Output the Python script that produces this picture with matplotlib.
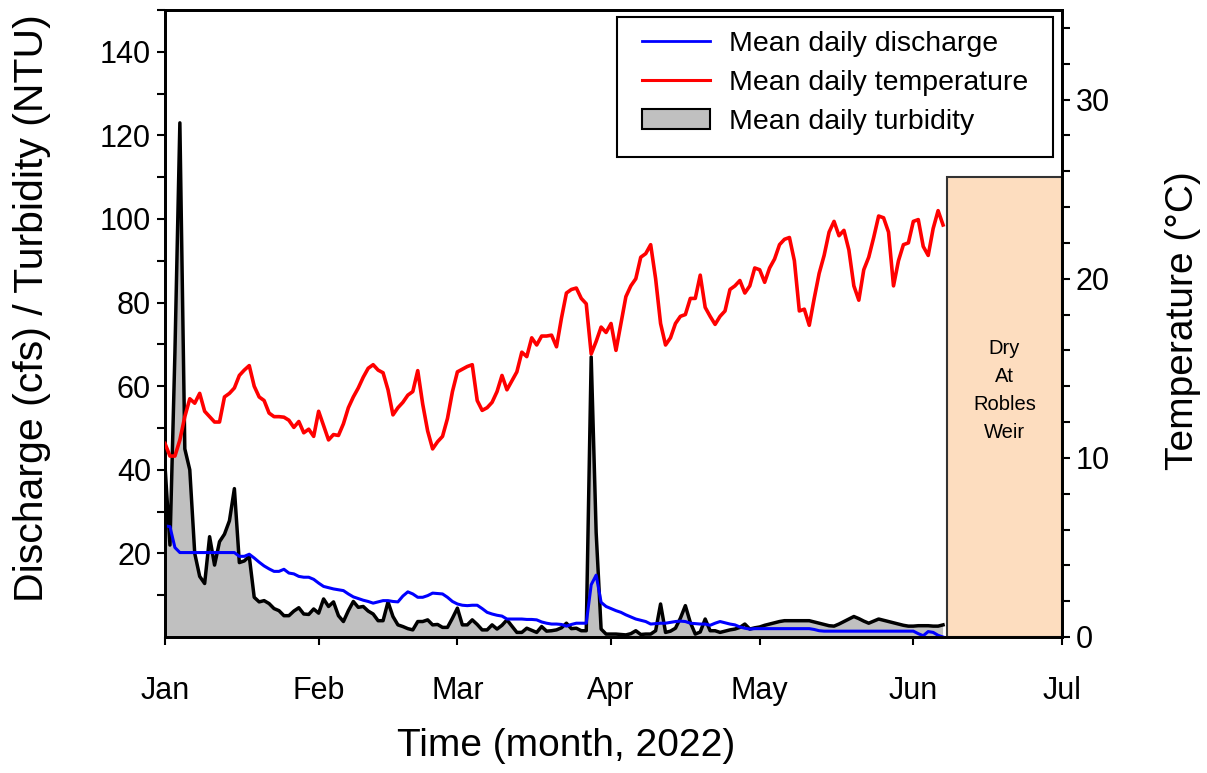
import numpy as np
import matplotlib
matplotlib.use('Agg')
import matplotlib.pyplot as plt
from matplotlib.patches import Rectangle, Patch
from matplotlib.lines import Line2D

plt.rcParams['font.family'] = ['Liberation Sans', 'DejaVu Sans']

# ---- data (daily values from 1 Jan 2022) ----
turbidity = [41, 22, 68, 123, 45, 40, 20, 14.5, 12.8, 24,
             17.2, 22.8, 24.6, 27.8, 35.5, 17.8, 18.2, 19.3, 9.5, 8.4,
             8.7, 8.0, 6.8, 6.3, 5.1, 5.1, 6.2, 7.0, 5.5, 5.4,
             6.7, 5.7, 9.1, 7.3, 8.4, 5.1, 3.7, 6.3, 8.5, 7.1,
             7.3, 6.2, 5.5, 3.9, 3.9, 8.4, 4.9, 2.9, 2.5, 2.0,
             1.7, 3.7, 3.7, 4.1, 2.9, 3.0, 2.3, 2.3, 4.5, 6.9,
             2.9, 2.9, 4.1, 3.0, 1.7, 1.7, 2.9, 1.9, 2.8, 4.1,
             2.6, 1.1, 1.1, 2.1, 1.6, 1.1, 2.5, 1.4, 1.5, 1.7,
             2.2, 3.3, 2.0, 2.1, 1.5, 1.5, 67, 25, 1.9, 0.7,
             0.7, 0.7, 0.6, 0.5, 0.8, 1.5, 0.6, 0.7, 0.7, 1.5,
             7.9, 1.1, 1.4, 2.1, 4.5, 7.5, 3.5, 0.7, 1.2, 4.3,
             1.5, 1.5, 1.1, 1.4, 1.7, 1.9, 2.3, 3.1, 1.9, 2.2,
             2.4, 2.8, 3.1, 3.4, 3.7, 3.9, 3.9, 3.9, 3.9, 3.9,
             3.9, 3.6, 3.3, 3.0, 2.7, 2.6, 3.1, 3.7, 4.3, 4.9,
             4.4, 3.8, 3.3, 3.8, 4.3, 4.0, 3.7, 3.4, 3.1, 2.8,
             2.6, 2.6, 2.7, 2.7, 2.7, 2.6, 2.6, 2.9]

discharge = [26.6, 26.4, 21.4, 20.2, 20.2, 20.2, 20.2, 20.2, 20.2, 20.2,
             20.2, 20.2, 20.2, 20.2, 20.2, 19.3, 19.3, 19.8, 18.9, 17.9,
             17.0, 16.3, 15.7, 15.7, 16.2, 15.3, 15.1, 14.5, 14.3, 14.3,
             13.8, 12.9, 12.1, 11.8, 11.5, 11.3, 11.1, 10.3, 9.6, 9.2,
             8.8, 8.5, 8.1, 8.4, 8.7, 8.7, 8.5, 8.4, 9.8, 10.8,
             10.3, 9.5, 9.5, 9.9, 10.5, 10.4, 10.3, 9.5, 8.5, 7.9,
             7.6, 7.5, 7.6, 7.6, 6.8, 5.9, 5.5, 5.2, 5.0, 4.3,
             4.3, 4.3, 4.3, 4.2, 4.2, 4.1, 3.6, 3.3, 3.1, 3.1,
             3.0, 2.6, 3.0, 3.3, 3.3, 3.3, 12.5, 14.8, 8.3, 7.3,
             6.8, 6.3, 5.9, 5.3, 4.8, 4.3, 4.0, 3.7, 3.1, 3.2,
             3.3, 3.3, 3.5, 3.7, 3.8, 3.7, 3.3, 3.2, 3.1, 3.1,
             2.8, 3.3, 3.7, 3.4, 3.1, 2.9, 2.4, 2.1, 1.9, 2.0,
             2.0, 2.0, 2.0, 2.0, 2.0, 2.0, 2.0, 2.0, 2.0, 2.0,
             2.0, 1.8, 1.5, 1.4, 1.4, 1.4, 1.4, 1.4, 1.4, 1.4,
             1.4, 1.4, 1.4, 1.4, 1.4, 1.4, 1.4, 1.4, 1.4, 1.4,
             1.4, 1.4, 0.8, 0.3, 1.3, 1.1, 0.4, 0.0]

temperature = [10.8, 10.1, 10.1, 11.0, 12.3, 13.3, 13.05, 13.6, 12.6, 12.3,
               12.0, 12.0, 13.4, 13.6, 13.9, 14.6, 14.9, 15.15, 14.0, 13.4,
               13.2, 12.5, 12.3, 12.3, 12.27, 12.1, 11.7, 12.03, 11.4, 11.6,
               11.2, 12.6, 11.8, 11.0, 11.3, 11.25, 11.9, 12.8, 13.4, 13.9,
               14.5, 15.0, 15.2, 14.9, 14.75, 13.8, 12.4, 12.8, 13.1, 13.5,
               13.7, 14.87, 13.0, 11.5, 10.5, 10.9, 11.2, 12.2, 13.7, 14.8,
               14.95, 15.1, 15.2, 13.2, 12.65, 12.8, 13.1, 13.7, 14.6, 13.8,
               14.3, 14.8, 15.9, 15.65, 16.7, 16.3, 16.8, 16.8, 16.85, 16.2,
               17.8, 19.2, 19.4, 19.48, 18.9, 18.6, 15.8, 16.5, 17.3, 17.0,
               17.5, 16.0, 17.5, 19.0, 19.6, 20.0, 21.2, 21.4, 21.9, 20.0,
               17.5, 16.3, 16.7, 17.5, 17.9, 18.0, 18.9, 18.9, 20.2, 18.4,
               17.9, 17.45, 17.9, 18.2, 19.4, 19.6, 19.9, 19.2, 19.6, 20.6,
               20.5, 19.8, 20.6, 21.1, 21.9, 22.2, 22.3, 21.0, 18.2, 18.3,
               17.4, 18.9, 20.3, 21.3, 22.6, 23.2, 22.4, 22.7, 21.6, 19.6,
               18.8, 20.5, 21.2, 22.3, 23.5, 23.4, 22.6, 19.6, 21.0, 21.9,
               22.0, 23.2, 23.3, 21.8, 21.3, 22.8, 23.8, 23.0]

month_ticks = [0, 31, 59, 90, 120, 151, 181]
month_labels = ['Jan', 'Feb', 'Mar', 'Apr', 'May', 'Jun', 'Jul']
left_ticks = [20, 40, 60, 80, 100, 120, 140]
right_ticks = [0, 10, 20, 30]
dry_start = 157.8
dry_top = 110
dry_label = 'Dry\nAt\nRobles\nWeir'

days = np.arange(len(turbidity))

W, H = 1207, 773
fig = plt.figure(figsize=(W / 100, H / 100), dpi=100)
ax = fig.add_axes([165 / W, 1 - 637 / H, (1062 - 165) / W, (637 - 10) / H])

ax.fill_between(days, turbidity, 0, facecolor='#C0C0C0', edgecolor='none', zorder=1)
ax.plot(days, turbidity, color='black', lw=2.5, zorder=2)
ax.plot(days, discharge, color='#0000FF', lw=2.2, zorder=3)
ax.set_xlim(month_ticks[0], month_ticks[-1])
ax.set_ylim(0, 150)

ax.add_patch(Rectangle((dry_start, 0), month_ticks[-1] - dry_start, dry_top,
                       facecolor='#FDDDBF', edgecolor='#333333', lw=1.5, zorder=4))
ax.text((dry_start + month_ticks[-1]) / 2, 59, dry_label, ha='center', va='center',
        fontsize=14.5, linespacing=1.6, zorder=5)

ax2 = ax.twinx()
ax2.plot(days, temperature, color='#FF0000', lw=2.6, zorder=3)
ax2.set_ylim(0, 35)

# ticks
ax.set_xticks(month_ticks)
ax.set_xticklabels(month_labels)
ax.set_yticks(left_ticks)
ax.set_yticks(np.arange(10, 151, 20), minor=True)
ax2.set_yticks(right_ticks)
ax2.set_yticks(np.arange(2, 35, 2), minor=True)
ax.tick_params(axis='x', which='major', length=6, width=1.5, labelsize=22, pad=22)
ax.tick_params(axis='y', which='major', length=6, width=1.5, labelsize=22, pad=4)
ax.tick_params(axis='y', which='minor', length=6, width=1.5)
ax2.tick_params(axis='y', which='major', length=6, width=1.5, labelsize=22, pad=4)
ax2.tick_params(axis='y', which='minor', length=6, width=1.5)

for a in (ax, ax2):
    for s in a.spines.values():
        s.set_linewidth(2)
        s.set_color('black')

ax.set_xlabel('Time (month, 2022)', fontsize=28)
ax.set_ylabel('Discharge (cfs) / Turbidity (NTU)', fontsize=29.5)
ax2.set_ylabel('Temperature (\u00b0C)', fontsize=28)
ax.xaxis.set_label_coords((566 - 165) / 897, (637 - 728) / 627)
ax.yaxis.set_label_coords((51 - 165) / 897, (637 - 308) / 627)
ax2.yaxis.set_label_coords((1165 - 165) / 897, (637 - 321) / 627)

# legend
fig.patches.append(Rectangle((617 / W, 1 - 157 / H), (1053 - 617) / W, (157 - 17) / H,
                             transform=fig.transFigure, facecolor='white',
                             edgecolor='black', lw=1.5, zorder=10))
handles = [Line2D([], [], color='#0000FF', lw=2),
           Line2D([], [], color='#FF0000', lw=2.2),
           Patch(facecolor='#C0C0C0', edgecolor='black', lw=1.5)]
labels = ['Mean daily discharge', 'Mean daily temperature', 'Mean daily turbidity']
leg = fig.legend(handles, labels, loc='upper left', bbox_to_anchor=(642 / W, 1 - 31 / H),
                 bbox_transform=fig.transFigure, frameon=False, fontsize=20.5,
                 borderpad=0, borderaxespad=0, handlelength=2.39, handletextpad=0.67,
                 labelspacing=0.45)
leg.set_zorder(11)

fig.savefig('out.png', dpi=100)
